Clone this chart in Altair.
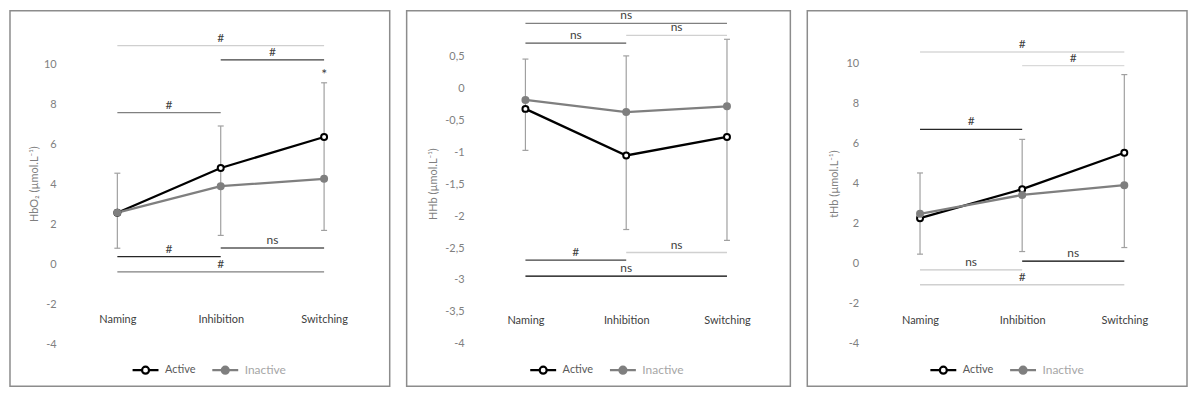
import altair as alt
import pandas as pd

CATEGORIES = ["Naming", "Inhibition", "Switching"]
SERIES = ["Active", "Inactive"]

# ---- Panel 1 : HbO2 ----
HBO2_ACTIVE = [2.59, 4.83, 6.38]
HBO2_INACTIVE = [2.60, 3.92, 4.29]
HBO2_ERR_UPPER = [4.57, 6.93, 9.09]
HBO2_ERR_LOWER = [0.82, 1.46, 1.71]
HBO2_TICKS = [-4, -2, 0, 2, 4, 6, 8, 10]
HBO2_ANN_FROM = ["Naming", "Inhibition", "Naming", "Naming", "Inhibition", "Naming"]
HBO2_ANN_TO = ["Switching", "Switching", "Inhibition", "Inhibition", "Switching", "Switching"]
HBO2_ANN_Y = [10.95, 10.24, 7.60, 0.40, 0.83, -0.36]
HBO2_ANN_LABEL = ["#", "#", "#", "#", "ns", "#"]
HBO2_STAR_CAT = ["Switching"]
HBO2_STAR_Y = [9.09]

# ---- Panel 2 : HHb ----
HHB_ACTIVE = [-0.32, -1.05, -0.76]
HHB_INACTIVE = [-0.18, -0.37, -0.28]
HHB_ERR_UPPER = [0.46, 0.51, 0.77]
HHB_ERR_LOWER = [-0.97, -2.21, -2.38]
HHB_TICKS = [-4, -3.5, -3, -2.5, -2, -1.5, -1, -0.5, 0, 0.5]
HHB_ANN_FROM = ["Naming", "Inhibition", "Naming", "Naming", "Inhibition", "Naming"]
HHB_ANN_TO = ["Switching", "Switching", "Inhibition", "Inhibition", "Switching", "Switching"]
HHB_ANN_Y = [1.02, 0.83, 0.71, -2.69, -2.57, -2.94]
HHB_ANN_LABEL = ["ns", "ns", "ns", "#", "ns", "ns"]
HHB_STAR_CAT = []
HHB_STAR_Y = []

# ---- Panel 3 : tHb ----
THB_ACTIVE = [2.29, 3.74, 5.56]
THB_INACTIVE = [2.51, 3.45, 3.94]
THB_ERR_UPPER = [4.55, 6.23, 9.47]
THB_ERR_LOWER = [0.49, 0.62, 0.82]
THB_TICKS = [-4, -2, 0, 2, 4, 6, 8, 10]
THB_ANN_FROM = ["Naming", "Inhibition", "Naming", "Naming", "Inhibition", "Naming"]
THB_ANN_TO = ["Switching", "Switching", "Inhibition", "Inhibition", "Switching", "Switching"]
THB_ANN_Y = [10.60, 9.92, 6.73, -0.30, 0.14, -1.04]
THB_ANN_LABEL = ["#", "#", "#", "ns", "ns", "#"]
THB_STAR_CAT = []
THB_STAR_Y = []

# ---- styles (kept apart from the data) ----
HBO2_ANN_COLORS = ["#cfcfcf", "#404040", "#808080", "#262626", "#595959", "#808080"]
HHB_ANN_COLORS = ["#808080", "#d0d0d0", "#595959", "#404040", "#d0d0d0", "#000000"]
THB_ANN_COLORS = ["#d9d9d9", "#d9d9d9", "#262626", "#c8c8c8", "#000000", "#d0d0d0"]

FONT = "Lato"
ERR_COLOR = "#a0a0a0"
LINE_COLORS = ["#000000", "#7f7f7f"]
FILL_COLORS = ["#ffffff", "#7f7f7f"]
LEGEND_PATH = ("M-1,0H-0.27M0.27,0H1M-0.27,0A0.27,0.27 0 1,1 0.27,0"
               "A0.27,0.27 0 1,1 -0.27,0Z")

GEOMS = [
    dict(w=381, xdom=[-1.0385, 2.6347], ydom=[-6.086, 12.697], yoff=46.3, tx=-21.4,
         xoff=-67.2, lx=121.5, ly=346),
    dict(w=385, xdom=[-1.1787, 2.6288], ydom=[-4.667, 1.219], yoff=57.6, tx=-31,
         xoff=-66.2, lx=122.5, ly=346),
    dict(w=381, xdom=[-1.1036, 2.6137], ydom=[-6.123, 12.669], yoff=51.6, tx=-23.8,
         xoff=-66.2, lx=122, ly=346),
]
HEIGHT = 377
TITLE_Y = 173.6


def panel(title, active, inactive, err_up, err_lo, ticks, a_from, a_to, a_y, a_lab, a_col,
          star_cat, star_y, g):
    idx = {c: i for i, c in enumerate(CATEGORIES)}
    rows = []
    for s, vals in zip(SERIES, [active, inactive]):
        for c, v in zip(CATEGORIES, vals):
            rows.append({"cat": c, "i": idx[c], "series": s, "value": v})
    df = pd.DataFrame(rows)
    err = pd.DataFrame({"i": [idx[c] for c in CATEGORIES], "up": err_up, "lo": err_lo})
    caps = pd.DataFrame({"i": [idx[c] for c in CATEGORIES] * 2, "v": list(err_up) + list(err_lo)})
    ann = pd.DataFrame({"i0": [idx[a] for a in a_from], "i1": [idx[b] for b in a_to],
                        "y": a_y, "label": a_lab, "color": a_col})
    star = pd.DataFrame({"i": [idx[c] for c in star_cat], "y": star_y,
                         "label": ["*"] * len(star_cat)})

    xs = alt.Scale(domain=g["xdom"], nice=False, zero=False)
    ys = alt.Scale(domain=g["ydom"], nice=False, zero=False)
    label_expr = "[" + ",".join("'%s'" % c for c in CATEGORIES) + "][datum.value]"

    x_axis = alt.Axis(values=list(range(len(CATEGORIES))), labelExpr=label_expr, title=None,
                      domain=False, ticks=False, grid=False, labelPadding=0,
                      labelBaseline="middle", offset=g["xoff"], labelFontSize=11,
                      labelColor="#404040", labelFont=FONT)
    y_axis = alt.Axis(values=ticks, title=title,
                      labelExpr="replace(toString(datum.value), '.', ',')",
                      domain=False, ticks=False, grid=False, labelPadding=0,
                      offset=-g["yoff"], labelColor="#808080", labelFontSize=11, labelFont=FONT,
                      titleX=g["tx"], titleY=TITLE_Y, titleAlign="center",
                      titleBaseline="middle", titleFontWeight="normal", titleColor="#7f7f7f",
                      titleFontSize=11, titleFont=FONT)
    leg = alt.Legend(title=None, orient="none", legendX=g["lx"], legendY=g["ly"],
                     direction="horizontal", symbolType=LEGEND_PATH, symbolSize=676,
                     symbolStrokeWidth=2.2, labelFont=FONT,
                     labelFontSize={"expr": "datum.label == 'Inactive' ? 12 : 11"},
                     labelColor={"expr": "datum.label == 'Active' ? '#595959' : '#a6a6a6'"},
                     labelOffset=5, columnPadding=12, padding=0)

    color_scale = alt.Scale(domain=SERIES, range=LINE_COLORS)
    fill_scale = alt.Scale(domain=SERIES, range=FILL_COLORS)

    def X(f):
        return alt.X(f, scale=xs, axis=x_axis)

    def Y(f):
        return alt.Y(f, scale=ys, axis=y_axis)

    err_rule = alt.Chart(err).mark_rule(color=ERR_COLOR, strokeWidth=1.2).encode(
        x=X("i:Q"), y=Y("lo:Q"), y2="up:Q")
    err_caps = alt.Chart(caps).mark_tick(orient="horizontal", size=6, thickness=1.2,
                                         color=ERR_COLOR, opacity=1).encode(
        x=X("i:Q"), y=Y("v:Q"))
    ann_rule = alt.Chart(ann).mark_rule(strokeWidth=1.3).encode(
        x=X("i0:Q"), x2="i1:Q", y=Y("y:Q"),
        stroke=alt.Stroke("color:N", scale=None))
    ann_text = alt.Chart(ann).transform_calculate(mid="(datum.i0 + datum.i1) / 2").mark_text(
        baseline="bottom", dy=-1, fontSize=12, color="#404040", font=FONT, clip=True).encode(
        x=X("mid:Q"), y=Y("y:Q"), text="label:N")
    lines = alt.Chart(df).mark_line(strokeWidth=2.3).encode(
        x=X("i:Q"), y=Y("value:Q"),
        color=alt.Color("series:N", scale=color_scale, legend=leg),
        detail="series:N")
    points = alt.Chart(df).mark_point(shape="circle", opacity=1, fillOpacity=1,
                                      strokeWidth=2, size=36).encode(
        x=X("i:Q"), y=Y("value:Q"),
        color=alt.Color("series:N", scale=color_scale, legend=leg),
        fill=alt.Fill("series:N", scale=fill_scale, legend=leg))
    layers = [lines, err_rule, err_caps, ann_rule, ann_text, points]
    if len(star):
        layers.append(alt.Chart(star).mark_text(baseline="bottom", dy=-1, fontSize=14,
                                                color="#404040", font=FONT, clip=True).encode(
            x=X("i:Q"), y=Y("y:Q"), text="label:N"))
    return alt.layer(*layers).properties(width=g["w"], height=HEIGHT)


p1 = panel("HbO₂ (µmol.L⁻¹)", HBO2_ACTIVE, HBO2_INACTIVE, HBO2_ERR_UPPER, HBO2_ERR_LOWER,
           HBO2_TICKS, HBO2_ANN_FROM, HBO2_ANN_TO, HBO2_ANN_Y, HBO2_ANN_LABEL, HBO2_ANN_COLORS,
           HBO2_STAR_CAT, HBO2_STAR_Y, GEOMS[0])
p2 = panel("HHb (µmol.L⁻¹)", HHB_ACTIVE, HHB_INACTIVE, HHB_ERR_UPPER, HHB_ERR_LOWER,
           HHB_TICKS, HHB_ANN_FROM, HHB_ANN_TO, HHB_ANN_Y, HHB_ANN_LABEL, HHB_ANN_COLORS,
           HHB_STAR_CAT, HHB_STAR_Y, GEOMS[1])
p3 = panel("tHb (µmol.L⁻¹)", THB_ACTIVE, THB_INACTIVE, THB_ERR_UPPER, THB_ERR_LOWER,
           THB_TICKS, THB_ANN_FROM, THB_ANN_TO, THB_ANN_Y, THB_ANN_LABEL, THB_ANN_COLORS,
           THB_STAR_CAT, THB_STAR_Y, GEOMS[2])

chart = alt.hconcat(p1, p2, p3, spacing=15).resolve_scale(
    color="independent", fill="independent"
).resolve_legend(color="independent", fill="independent").properties(
    padding={"left": 1, "top": 1, "right": 1, "bottom": 1}
).configure(font=FONT).configure_view(stroke="#8c8c8c", strokeWidth=1.5)

chart.save("out.html", embed_options={"renderer": "svg", "actions": False})
